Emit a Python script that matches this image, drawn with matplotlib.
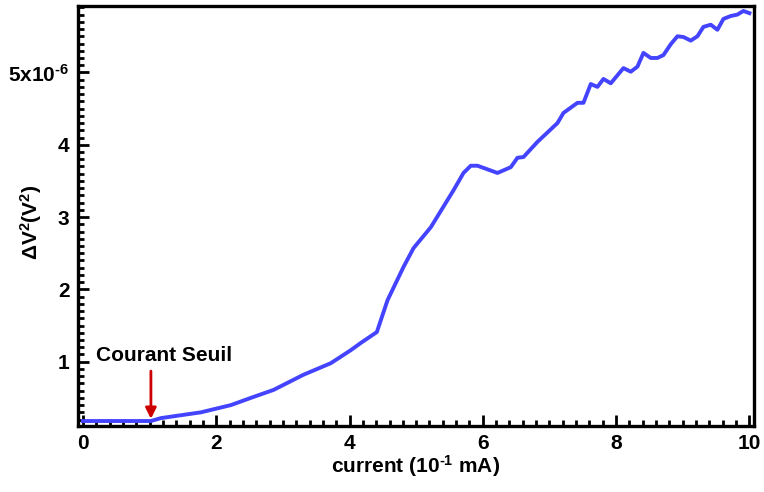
import matplotlib
matplotlib.use('Agg')
import matplotlib.pyplot as plt
from matplotlib.ticker import MultipleLocator

plt.rcParams['font.family'] = ['Liberation Sans', 'DejaVu Sans']
plt.rcParams['font.weight'] = 'bold'
plt.rcParams['mathtext.fontset'] = 'custom'
plt.rcParams['mathtext.rm'] = 'Liberation Sans:bold'
plt.rcParams['mathtext.it'] = 'Liberation Sans:bold'
plt.rcParams['mathtext.bf'] = 'Liberation Sans:bold'
plt.rcParams['mathtext.default'] = 'rm'

# current (10^-1 mA) vs delta V^2 (in units of 1e-6 V^2)
current = [0.0, 1.02, 1.17, 1.77, 2.22, 2.52, 2.86, 3.31, 3.72, 4.02, 4.17, 4.41,
           4.57, 4.81, 4.96, 5.22, 5.56, 5.71, 5.82, 5.92, 6.22, 6.42, 6.52, 6.61,
           6.82, 7.12, 7.21, 7.42, 7.51, 7.62, 7.72, 7.81, 7.92, 8.11, 8.22, 8.32,
           8.41, 8.52, 8.62, 8.71, 8.82, 8.92, 9.01, 9.12, 9.22, 9.31, 9.42, 9.52,
           9.61, 9.72, 9.82, 9.91, 10.0]
dv2 = [0.18, 0.18, 0.22, 0.30, 0.40, 0.50, 0.61, 0.82, 0.98, 1.16, 1.26, 1.41,
       1.85, 2.31, 2.57, 2.86, 3.37, 3.61, 3.71, 3.71, 3.61, 3.69, 3.82, 3.83,
       4.04, 4.30, 4.44, 4.58, 4.58, 4.84, 4.80, 4.91, 4.85, 5.06, 5.01, 5.08,
       5.27, 5.20, 5.20, 5.24, 5.39, 5.50, 5.49, 5.44, 5.50, 5.63, 5.66, 5.59,
       5.74, 5.78, 5.80, 5.85, 5.82]

x_ticks = [0, 2, 4, 6, 8, 10]
y_ticks = [1, 2, 3, 4, 5]
y_ticklabels = ['1', '2', '3', '4', r'5x10$^{\text{-6}}$']

threshold_x = 1.02
threshold_y = 0.21

fig = plt.figure(figsize=(7.64, 4.92), dpi=100)
ax = fig.add_axes([0.102, 0.134, 0.885, 0.854])

ax.plot(current, dv2, color='#4444ff', linewidth=2.8, solid_joinstyle='round')

ax.annotate('', xy=(threshold_x, threshold_y), xytext=(threshold_x, 0.87),
            arrowprops=dict(arrowstyle='-|>', color='#cc0000', lw=2,
                            mutation_scale=16, shrinkA=0, shrinkB=0))
ax.text(1.22, 1.09, 'Courant Seuil', ha='center', va='center',
        fontsize=15, fontweight='bold')

ax.set_xlim(-0.075, 10.07)
ax.set_ylim(0.11, 5.92)
ax.set_xticks(x_ticks)
ax.set_yticks(y_ticks)
ax.set_yticklabels(y_ticklabels)
ax.xaxis.set_minor_locator(MultipleLocator(0.2))
ax.yaxis.set_minor_locator(MultipleLocator(0.1))

ax.tick_params(which='both', direction='in', top=False, right=False,
               labelsize=15, width=2)
ax.tick_params(which='major', length=8, pad=6)
ax.tick_params(which='minor', length=4.5)
for sp in ax.spines.values():
    sp.set_linewidth(2.4)

ax.set_xlabel(r'current (10$^{\text{-1}}$ mA)', fontsize=15, fontweight='bold', labelpad=0)
ax.set_ylabel(r'$\Delta$V$^{2}$(V$^{2}$)', fontsize=15, fontweight='bold')
ax.yaxis.set_label_coords(-0.05, 0.486)

fig.savefig('out.png', dpi=100)
